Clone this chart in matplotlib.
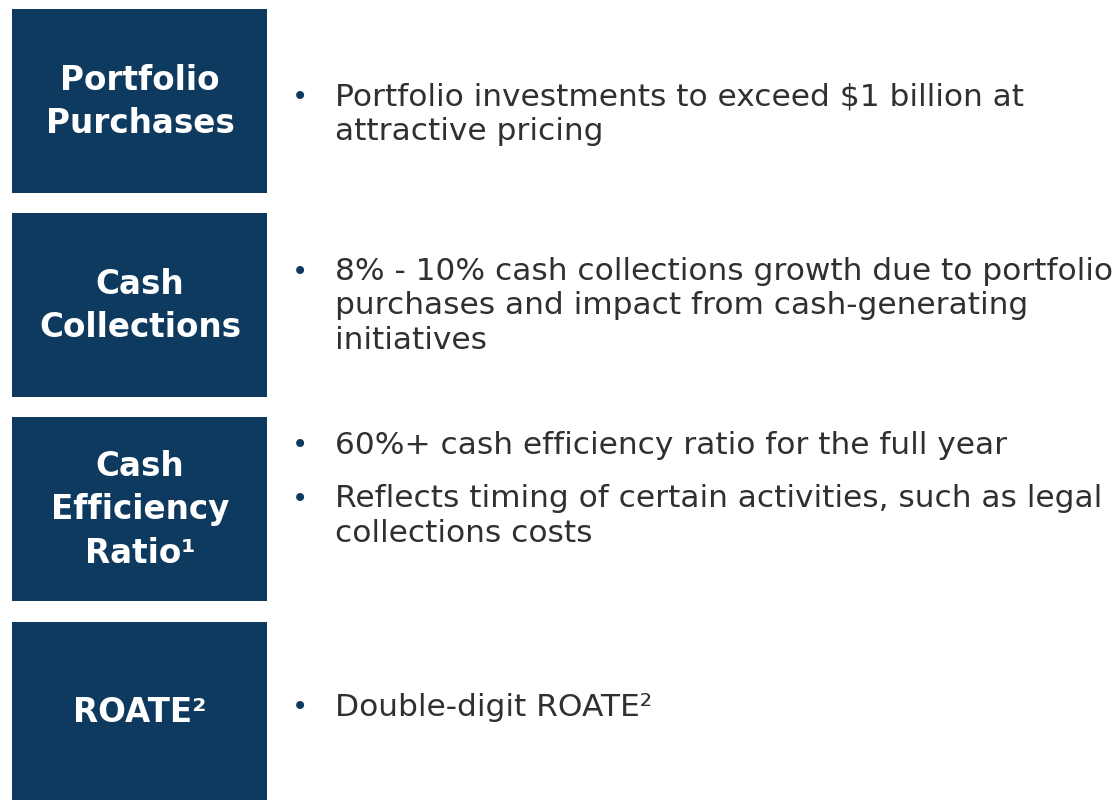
import matplotlib.pyplot as plt
from matplotlib.patches import Rectangle

# row titles and bullet text
titles = ["Portfolio\nPurchases", "Cash\nCollections", "Cash\nEfficiency\nRatio\u00b9", "ROATE\u00b2"]
bullets = [
    ["Portfolio investments to exceed $1 billion at\nattractive pricing"],
    ["8% - 10% cash collections growth due to portfolio\npurchases and impact from cash-generating\ninitiatives"],
    ["60%+ cash efficiency ratio for the full year",
     "Reflects timing of certain activities, such as legal\ncollections costs"],
    ["Double-digit ROATE\u00b2"],
]

navy = "#0f3a5f"
grey = "#303030"

box_top = [9, 213, 417, 622]
box_bot = [193, 397, 601, 800]
bullet_y = [[114], [306], [445, 516], [707]]
line_gap = 34.5

fig = plt.figure(figsize=(11.19, 8), dpi=100)
ax = fig.add_axes([0, 0, 1, 1])
ax.set_xlim(0, 1119)
ax.set_ylim(800, 0)
ax.axis("off")

for i in range(len(titles)):
    t, b = box_top[i], box_bot[i]
    ax.add_patch(Rectangle((12, t), 255, b - t, color=navy, lw=0))
    ax.text(140, (t + b) / 2 + 1, titles[i], color="white", fontsize=23.5,
            fontweight="bold", ha="center", va="center", linespacing=1.42)
    for txt, y in zip(bullets[i], bullet_y[i]):
        nlines = txt.count("\n") + 1
        first = y - (nlines - 1) * line_gap / 2
        ax.text(300, first, "\u2022", color=navy, fontsize=20, ha="center", va="center")
        ax.text(335, y, txt, color=grey, fontsize=22.5, ha="left", va="center",
                linespacing=1.25)

fig.savefig("out.png", dpi=100)
